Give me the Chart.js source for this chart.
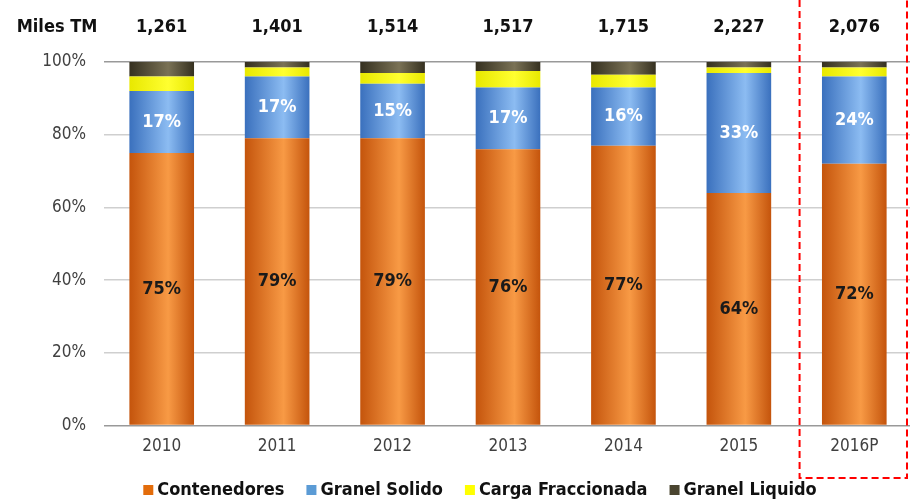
<!DOCTYPE html>
<html>
<head>
<meta charset="utf-8">
<script src="https://cdn.jsdelivr.net/npm/chart.js@4.4.1/dist/chart.umd.min.js"></script>
<style>
  html, body { margin: 0; padding: 0; background: #fff; overflow: hidden; }
  #wrap { position: relative; width: 914px; height: 502px; }
</style>
</head>
<body>
<div id="wrap"><canvas id="chart"></canvas></div>
<script>
const years = ["2010", "2011", "2012", "2013", "2014", "2015", "2016P"];
const totals = ["1,261", "1,401", "1,514", "1,517", "1,715", "2,227", "2,076"];
const contenedores = [75, 79, 79, 76, 77, 64, 72];
const granelSolido = [17, 17, 15, 17, 16, 33, 24];
const cargaFraccionada = [4, 2.5, 3, 4.5, 3.5, 1.5, 2.5];
const granelLiquido = [4, 1.5, 3, 2.5, 3.5, 1.5, 1.5];
const yTicks = [0, 20, 40, 60, 80, 100];
const legendColors = ["#e36c0a", "#5b9bd5", "#ffff00", "#4a4530"];

const FONT = "'Liberation Sans Narrow', 'DejaVu Sans Condensed', sans-serif";
const BAR_PCT = 0.56;

// cylinder-like horizontal gradient per bar
function shade(edge, mid) {
  return function (ctx) {
    const chart = ctx.chart;
    const xs = chart.scales.x;
    if (!chart.chartArea || !xs || ctx.dataIndex === undefined) return mid;
    const cx = xs.getPixelForValue(ctx.dataIndex);
    const w = (xs.width / years.length) * BAR_PCT;
    const g = chart.ctx.createLinearGradient(cx - w / 2, 0, cx + w / 2, 0);
    g.addColorStop(0, edge);
    g.addColorStop(0.6, mid);
    g.addColorStop(1, edge);
    return g;
  };
}

const overlay = {
  id: "overlay",
  afterDraw(chart) {
    const c = chart.ctx;
    const xs = chart.scales.x;
    c.save();
    c.fillStyle = "#111";
    c.font = "bold 18px " + FONT;
    c.textAlign = "center";
    c.textBaseline = "middle";
    c.fillText("Miles TM", 57, 27);
    totals.forEach((t, i) => c.fillText(t, xs.getPixelForValue(i), 27));

    // legend along the bottom
    const names = chart.data.datasets.map(d => d.label);
    const widths = names.map(n => c.measureText(n).width);
    const total = widths.reduce((a, b) => a + b, 0) + names.length * 14 + (names.length - 1) * 22;
    let x = 480 - total / 2;
    c.textAlign = "left";
    names.forEach((n, i) => {
      c.fillStyle = legendColors[i];
      c.fillRect(x, 485, 10, 10);
      c.fillStyle = "#111";
      c.fillText(n, x + 14, 490);
      x += 14 + widths[i] + 22;
    });

    // dashed frame round the projected year
    const left = (xs.getPixelForValue(5) + xs.getPixelForValue(6)) / 2 + 3;
    c.strokeStyle = "#ff0000";
    c.lineWidth = 2;
    c.setLineDash([7, 4]);
    c.beginPath();
    c.moveTo(left, 0);
    c.lineTo(left, 478);
    c.lineTo(907, 478);
    c.lineTo(907, 0);
    c.stroke();
    c.restore();
  }
};

const segLabels = {
  id: "segLabels",
  afterDatasetsDraw(chart) {
    const c = chart.ctx;
    c.save();
    c.font = "bold 18px " + FONT;
    c.textAlign = "center";
    c.textBaseline = "middle";
    [[0, "#1a1a1a"], [1, "#ffffff"]].forEach(([di, col]) => {
      const meta = chart.getDatasetMeta(di);
      c.fillStyle = col;
      meta.data.forEach((bar, i) => {
        const v = chart.data.datasets[di].data[i];
        c.fillText(Math.round(v) + "%", bar.x, (bar.y + bar.base) / 2);
      });
    });
    c.restore();
  }
};

new Chart(document.getElementById("chart"), {
  type: "bar",
  data: {
    labels: years,
    datasets: [
      { label: "Contenedores", data: contenedores, backgroundColor: shade("#c4540c", "#f89a45") },
      { label: "Granel Solido", data: granelSolido, backgroundColor: shade("#3a70bd", "#8cbcf2") },
      { label: "Carga Fraccionada", data: cargaFraccionada, backgroundColor: shade("#e8e800", "#ffff30") },
      { label: "Granel Liquido", data: granelLiquido, backgroundColor: shade("#353020", "#7a7256") }
    ]
  },
  options: {
    responsive: true,
    maintainAspectRatio: false,
    animation: false,
    datasets: { bar: { barPercentage: 1, categoryPercentage: BAR_PCT, borderWidth: 0 } },
    layout: { padding: { top: 62, right: 2, left: 0, bottom: 42 } },
    scales: {
      x: {
        stacked: true,
        grid: { display: false },
        border: { display: false },
        ticks: { color: "#404040", font: { family: FONT, size: 17 }, padding: 3 }
      },
      y: {
        stacked: true,
        min: 0,
        max: 100,
        afterBuildTicks(axis) { axis.ticks = yTicks.map(v => ({ value: v })); },
        afterFit(axis) { axis.width = 104; },
        border: { display: false },
        grid: {
          color: ctx => (ctx.tick && (ctx.tick.value === 0 || ctx.tick.value === 100)) ? "#999999" : "#cfcfcf",
          lineWidth: 1.5,
          drawTicks: false
        },
        ticks: {
          color: "#404040",
          font: { family: FONT, size: 17 },
          padding: 18,
          callback: v => v + "%"
        }
      }
    },
    plugins: {
      legend: { display: false },
      tooltip: { enabled: false }
    }
  },
  plugins: [overlay, segLabels]
});
</script>
</body>
</html>
